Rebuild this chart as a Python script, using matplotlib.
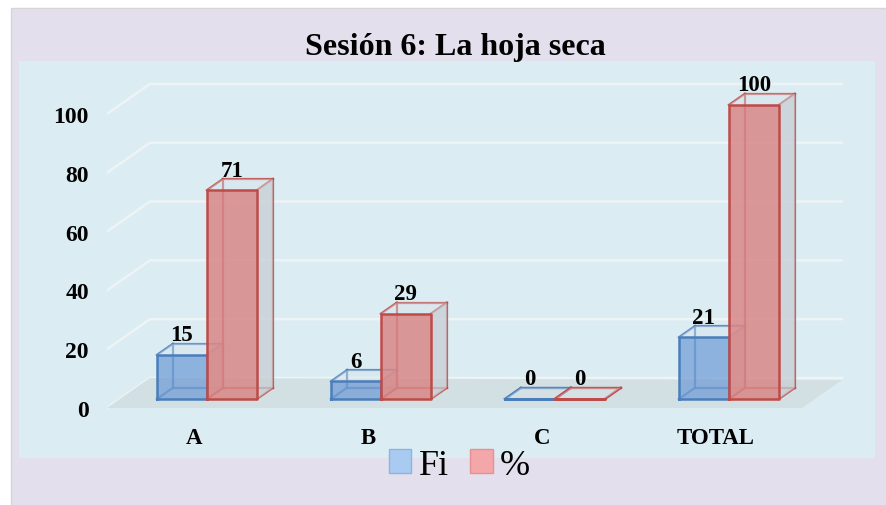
import matplotlib
matplotlib.use("Agg")
import matplotlib.pyplot as plt
from matplotlib.patches import Rectangle, Patch

# data
categories = ["A", "B", "C", "TOTAL"]
fi_values = [15, 6, 0, 21]
pct_values = [71, 29, 0, 100]
series_names = ["Fi", "%"]
y_ticks = [0, 20, 40, 60, 80, 100]

# fake 3d depth: offset of the back wall in data units (x per category, y per value)
DX, DY = 0.247, 10.2
BAR_W = 0.287
D0, D1 = 0.3, 0.672   # bar depth range (fraction of the wall depth)

plt.rcParams['font.family'] = ['Liberation Serif', 'DejaVu Serif']

fig = plt.figure(figsize=(8.87, 5.06), dpi=100, facecolor="white")
# lavender chart area and light blue plot area
fig.patches.append(Rectangle((0.0124, -0.01), 1.0, 0.992, transform=fig.transFigure,
                             facecolor="#E4DFEC", edgecolor="#D6D6D6", lw=1, zorder=-2))
fig.patches.append(Rectangle((0.0214, 0.0929), 0.9651, 0.7846, transform=fig.transFigure,
                             facecolor="#DBEDF3", edgecolor="none", zorder=-1))

ax = fig.add_axes([0.1206, 0.170, 0.8659, 0.7075])
ax.set_facecolor("none")
ax.set_xlim(-0.5, 3.914)
ax.set_ylim(-3.74, 118.0)
for s in ax.spines.values():
    s.set_visible(False)


def P(x, v, d):
    return (x + d * DX, v + d * DY)


# back wall gridlines
x_left, x_right = -0.5, 3.477
for v in y_ticks:
    a, b, c = P(x_left, v, 0), P(x_left, v, 1), P(x_right, v, 1)
    ax.plot([a[0], b[0], c[0]], [a[1], b[1], c[1]], color="#EEF3F5", lw=1.8, zorder=1)

# floor
floor = [P(x_left, 0, 0), P(3.494, 0, 0), P(3.494, 0, 0.93), P(x_left, 0, 1)]
ax.fill([p[0] for p in floor], [p[1] for p in floor], color="#D2DFE3", zorder=1.5, lw=0)


def box(x0, h, face, edge, z):
    x1 = x0 + BAR_W
    front = [P(x0, 0, D0), P(x1, 0, D0), P(x1, h, D0), P(x0, h, D0)]
    back = [P(x0, 0, D1), P(x1, 0, D1), P(x1, h, D1), P(x0, h, D1)]
    side = [front[1], back[1], back[2], front[2]]
    top = [front[3], front[2], back[2], back[3]]
    # hidden back edges first
    for i in range(4):
        a, b = back[i], back[(i + 1) % 4]
        ax.plot([a[0], b[0]], [a[1], b[1]], color=edge, lw=1.6, alpha=0.85, zorder=z)
        a, b = front[i], back[i]
        ax.plot([a[0], b[0]], [a[1], b[1]], color=edge, lw=1.6, alpha=0.85, zorder=z)
    ax.fill([p[0] for p in side], [p[1] for p in side], color="#C6CED4", alpha=0.75, lw=0, zorder=z)
    ax.fill([p[0] for p in top], [p[1] for p in top], color="#D8E2E8", alpha=0.4, lw=0, zorder=z)
    ax.fill([p[0] for p in front], [p[1] for p in front], color=face, lw=0, zorder=z + 0.1)
    xs = [p[0] for p in front] + [front[0][0]]
    ys = [p[1] for p in front] + [front[0][1]]
    ax.plot(xs, ys, color=edge, lw=1.8, zorder=z + 0.2)
    # value label above the top back edge
    cx = (front[0][0] + front[1][0]) / 2
    ax.text(cx, h + D1 * DY + 1.2, f"{h}", ha="center", va="baseline",
            fontsize=16.5, fontweight="bold", zorder=10)


for i, cat in enumerate(categories):
    box(i - BAR_W, fi_values[i], (0.45, 0.62, 0.84, 0.75), "#4A7EBB", 3 + i)
    box(i, pct_values[i], (0.85, 0.53, 0.53, 0.85), "#BE4B48", 3.5 + i)

ax.set_yticks(y_ticks)
ax.set_yticklabels([str(v) for v in y_ticks], fontsize=17, fontweight="bold")
ax.set_xticks(range(len(categories)))
ax.set_xticklabels(categories, fontsize=16.5, fontweight="bold")
ax.tick_params(axis="y", length=0, pad=13)
ax.tick_params(axis="x", length=0, pad=6)

fig.text(0.513, 0.907, "Sesión 6: La hoja seca", ha="center", va="center",
         fontsize=23, fontweight="bold")

handles = [Patch(facecolor="#A9CBF2", edgecolor="#8DB3E2", label=series_names[0]),
           Patch(facecolor="#F4A7A9", edgecolor="#E59194", label=series_names[1])]
fig.legend(handles=handles, loc="center", bbox_to_anchor=(0.518, 0.079), ncol=2,
           frameon=False, fontsize=26, handlelength=0.62, handleheight=0.62,
           handletextpad=0.2, columnspacing=0.6, borderpad=0.1)

fig.savefig("out.png", dpi=100, facecolor=fig.get_facecolor())
